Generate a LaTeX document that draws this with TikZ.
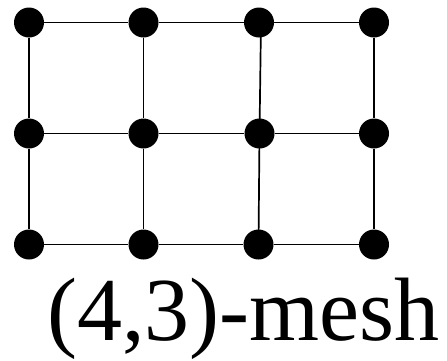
\documentclass[tikz,border=0pt]{standalone}
\usepackage{fontspec}
\setmainfont{Liberation Serif}
\usetikzlibrary{backgrounds}
\begin{document}
\begin{tikzpicture}[x=1pt,y=-1pt,
  vert/.style={circle,fill=black,inner sep=0pt,minimum size=30pt},
  edge/.style={line width=1.7pt,black}]
\useasboundingbox (0,0) rectangle (447,360);
\node[vert] (a1) at (29,22.5) {};
\node[vert] (a2) at (143.5,22.5) {};
\node[vert] (a3) at (259,22.5) {};
\node[vert] (a4) at (374,22.5) {};
\node[vert] (b1) at (29,133.5) {};
\node[vert] (b2) at (143.5,133.5) {};
\node[vert] (b3) at (259.5,133.5) {};
\node[vert] (b4) at (374,133.5) {};
\node[vert] (c1) at (29,244.5) {};
\node[vert] (c2) at (143.5,244.5) {};
\node[vert] (c3) at (258.5,244.5) {};
\node[vert] (c4) at (374,244.5) {};
\coordinate (a3off) at ([xshift=2pt]a3.center);
\begin{scope}[on background layer]
\draw[edge] (a1)--(a2)--(a3)--(a4);
\draw[edge] (b1)--(b2)--(b3)--(b4);
\draw[edge] (c1)--(c2)--(c3)--(c4);
\draw[edge] (a1)--(b1)--(c1);
\draw[edge] (a2)--(b2)--(c2);
\draw[edge] (a3off)--(b3.center)--(c3.center);
\draw[edge] (a4)--(b4)--(c4);
\end{scope}
\node[anchor=base,inner sep=0pt,font=\fontsize{90}{90}\selectfont] (lbl) at (243.5,340.5) {(4,3)-mesh};
\end{tikzpicture}
\end{document}
